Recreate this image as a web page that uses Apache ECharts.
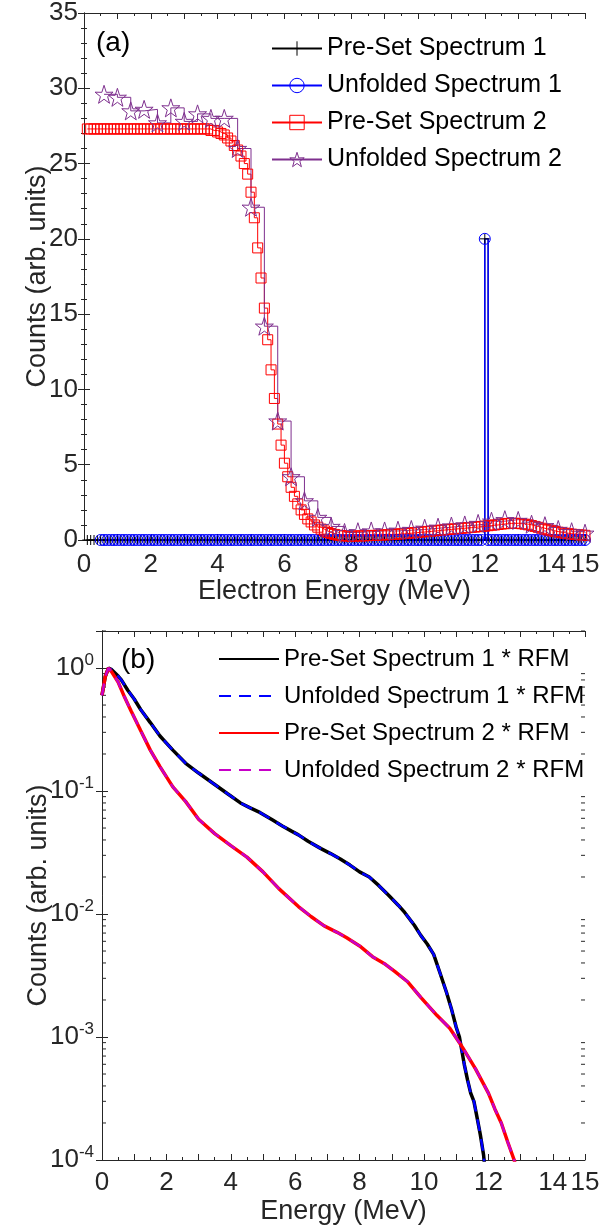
<!DOCTYPE html>
<html>
<head>
<meta charset="utf-8">
<script src="https://cdn.jsdelivr.net/npm/echarts@6/dist/echarts.min.js"></script>
<style>
  html, body { margin: 0; padding: 0; background: #fff; }
  #chart { width: 604px; height: 1226px; }
</style>
</head>
<body>
<div id="chart"></div>
<script>
// ---- panel (a): spectra, 0.1 MeV bins ----
const binsFine = Array.from({ length: 150 }, (_, i) => +((i + 1) * 0.1).toFixed(1));      // 0.1 .. 15.0
const binsUnfold1 = Array.from({ length: 146 }, (_, i) => +((i + 5) * 0.1).toFixed(1));   // 0.5 .. 15.0
const binsUnfold2 = Array.from({ length: 37 }, (_, i) => +(0.6 + i * 0.4).toFixed(1));    // 0.6 .. 15.0

const preset1 = [
  0,0,0,0,0,0,0,0,0,0,
  0,0,0,0,0,0,0,0,0,0,
  0,0,0,0,0,0,0,0,0,0,
  0,0,0,0,0,0,0,0,0,0,
  0,0,0,0,0,0,0,0,0,0,
  0,0,0,0,0,0,0,0,0,0,
  0,0,0,0,0,0,0,0,0,0,
  0,0,0,0,0,0,0,0,0,0,
  0,0,0,0,0,0,0,0,0,0,
  0,0,0,0,0,0,0,0,0,0,
  0,0,0,0,0,0,0,0,0,0,
  0,0,0,0,0,0,0,0,0,20,
  0,0,0,0,0,0,0,0,0,0,
  0,0,0,0,0,0,0,0,0,0,
  0,0,0,0,0,0,0,0,0,0
];
const unfolded1 = [
  0,0,0,0,0,0,0,0,0,0,
  0,0,0,0,0,0,0,0,0,0,
  0,0,0,0,0,0,0,0,0,0,
  0,0,0,0,0,0,0,0,0,0,
  0,0,0,0,0,0,0,0,0,0,
  0,0,0,0,0,0,0,0,0,0,
  0,0,0,0,0,0,0,0,0,0,
  0,0,0,0,0,0,0,0,0,0,
  0,0,0,0,0,0,0,0,0,0,
  0,0,0,0,0,0,0,0,0,0,
  0,0,0,0,0,0,0,0,0,0,
  0,0,0,0,0,20,0,0,0,0,
  0,0,0,0,0,0,0,0,0,0,
  0,0,0,0,0,0,0,0,0,0,
  0,0,0,0,0,0
];
const preset2 = [
  27.3,27.3,27.3,27.3,27.3,27.3,27.3,27.3,27.3,27.3,
  27.3,27.3,27.3,27.3,27.3,27.3,27.3,27.3,27.3,27.3,
  27.3,27.3,27.3,27.3,27.3,27.3,27.3,27.3,27.3,27.3,
  27.3,27.3,27.3,27.3,27.3,27.3,27.3,27.2,27.2,27.1,
  27.0,26.9,26.7,26.5,26.2,25.9,25.5,25.0,24.3,23.1,
  21.4,19.4,17.4,15.4,13.3,11.3,9.4,7.7,6.3,5.1,
  4.2,3.5,2.9,2.4,2.0,1.7,1.4,1.2,1.0,0.85,
  0.72,0.6,0.5,0.43,0.37,0.32,0.29,0.27,0.26,0.26,
  0.26,0.27,0.27,0.28,0.29,0.3,0.31,0.32,0.33,0.34,
  0.35,0.37,0.38,0.4,0.41,0.43,0.45,0.47,0.49,0.51,
  0.53,0.55,0.57,0.59,0.61,0.63,0.66,0.68,0.7,0.72,
  0.74,0.76,0.78,0.8,0.82,0.84,0.86,0.88,0.9,0.92,
  0.95,0.98,1.0,1.03,1.06,1.08,1.1,1.11,1.11,1.1,
  1.08,1.05,1.01,0.96,0.9,0.84,0.78,0.72,0.66,0.61,
  0.56,0.52,0.48,0.45,0.42,0.39,0.37,0.35,0.33,0.31
];
const unfolded2 = [
  29.6,29.4,28.5,28.6,27.7,28.7,27.8,28.3,28.0,28.0,
  26.0,22.1,14.2,7.9,4.2,2.6,1.5,0.9,0.5,0.55,
  0.6,0.6,0.65,0.7,0.78,0.85,0.93,1.0,1.1,1.25,
  1.35,1.3,1.05,0.95,0.7,0.55,0.45
];

// ---- panel (b): spectra folded with the response matrix ----
const energyB1 = [0,0.1,0.2,0.3,0.5,0.6,0.8,1.0,1.2,1.5,1.8,2.2,2.6,3.0,3.5,3.9,4.3,4.6,4.9,5.3,
  5.6,5.9,6.1,6.4,6.8,7.1,7.4,7.7,8.0,8.3,8.6,8.9,9.2,9.4,9.7,9.9,10.1,10.3,10.5,10.7,
  10.85,11.0,11.1,11.25,11.35,11.45,11.55,11.65,11.75,11.85,11.9];
const rfm1 = [0.6,0.85,1.0,0.97,0.86,0.8,0.66,0.56,0.46,0.36,0.28,0.215,0.168,0.14,0.113,0.095,0.08,0.073,0.067,0.058,
  0.052,0.047,0.044,0.039,0.034,0.031,0.028,0.025,0.022,0.02,0.017,0.0142,0.0118,0.0103,0.0081,0.0067,0.0057,0.0047,0.0033,0.0023,
  0.0017,0.0012,0.001,0.0006,0.00045,0.00035,0.0003,0.00022,0.00016,0.00011,0.00008];
const energyB2 = [0,0.1,0.2,0.3,0.5,0.7,0.9,1.2,1.5,1.8,2.2,2.6,3.0,3.5,4.0,4.5,5.0,5.5,6.1,6.5,
  6.9,7.3,7.6,8.0,8.4,8.8,9.1,9.5,9.9,10.4,10.8,11.2,11.6,12.0,12.2,12.4,12.6,12.8,12.9];
const rfm2 = [0.6,0.85,1.0,0.93,0.77,0.58,0.45,0.31,0.215,0.158,0.108,0.082,0.059,0.045,0.036,0.029,0.022,0.016,0.0115,0.0095,
  0.008,0.0071,0.0064,0.0055,0.0045,0.0039,0.0034,0.0028,0.0021,0.0015,0.00118,0.00082,0.00055,0.00035,0.00026,0.0002,0.00014,0.0001,0.00008];

const pair = (xs, ys) => xs.map((x, i) => [x, ys[i]]);

// minor ticks of the log axis (2..9 x 10^n)
const logMinor = [];
for (let p = -4; p <= 0; p++) for (let m = 2; m <= 9; m++) {
  const v = m * Math.pow(10, p);
  if (v <= 2) logMinor.push(v);
}

const axisCol = '#262626';
const font = 'Liberation Sans, Arial, Helvetica, sans-serif';
const plusSym = 'path://M0,5L10,5M5,0L5,10';
const starSym = 'path://M50,0L61.8,35.3L98.1,34.5L69.1,56.7L79.4,90.5L50,70L20.6,90.5L30.9,56.7L1.9,34.5L38.2,35.3Z';

function xAxisCfg(grid, pos, name, margin, gap) {
  return {
    type: 'value', gridIndex: grid, position: pos, min: 0, max: 15, interval: 1,
    name: name || '', nameLocation: 'middle', nameGap: gap || 40, nameMoveOverlap: false,
    nameTextStyle: { fontSize: 27, color: axisCol, fontFamily: font },
    axisLine: { show: true, onZero: false, lineStyle: { color: axisCol, width: 1 } },
    axisTick: { show: true, inside: true, length: 6, lineStyle: { color: axisCol } },
    minorTick: { show: true, splitNumber: 2, length: 3, lineStyle: { color: axisCol } },
    splitLine: { show: false },
    axisLabel: {
      show: pos === 'bottom', fontSize: 26, color: axisCol, fontFamily: font, margin: margin || 12,
      formatter: v => (v % 2 === 0 || v === 15) ? String(v) : ''
    }
  };
}

const supLabel = v => {
  const e = Math.round(Math.log10(v));
  if (Math.abs(Math.log10(v) - e) > 1e-6) return '';
  return '{b|10}{e|' + (e === 0 ? '0' : '-' + Math.abs(e)) + '}';
};

const legendItem = (name, color) => ({ name, itemStyle: { color: 'transparent', borderColor: color, borderWidth: 1 } });
const legendLine = name => ({ name, itemStyle: { color: 'transparent', borderColor: 'transparent', borderWidth: 0, opacity: 0 } });

const option = {
  animation: false,
  backgroundColor: '#fff',
  textStyle: { fontFamily: font },
  grid: [
    { left: 84, top: 12, width: 501, height: 528 },
    { left: 102, top: 631, width: 483, height: 529 }
  ],
  graphic: [
    { type: 'text', left: 96, top: 29, style: { text: '(a)', fontSize: 28, fill: '#000', fontFamily: font } },
    { type: 'text', left: 121, top: 646, style: { text: '(b)', fontSize: 28, fill: '#000', fontFamily: font } }
  ],
  legend: [
    {
      data: [
        legendItem('Pre-Set Spectrum 1', '#000'),
        legendItem('Unfolded Spectrum 1', '#0000ff'),
        legendItem('Pre-Set Spectrum 2', '#ff0000'),
        legendItem('Unfolded Spectrum 2', '#7e2f8e')
      ],
      orient: 'vertical', left: 266, top: 31, itemWidth: 50, itemHeight: 18, itemGap: 12,
      textStyle: { fontSize: 25, color: '#000', fontFamily: font }
    },
    {
      data: [
        legendLine('Pre-Set Spectrum 1 * RFM'),
        legendLine('Unfolded Spectrum 1 * RFM'),
        legendLine('Pre-Set Spectrum 2 * RFM'),
        legendLine('Unfolded Spectrum 2 * RFM')
      ],
      orient: 'vertical', left: 213, top: 642, itemWidth: 60, itemHeight: 16, itemGap: 13,
      textStyle: { fontSize: 24, color: '#000', fontFamily: font }
    }
  ],
  xAxis: [
    xAxisCfg(0, 'bottom', 'Electron Energy (MeV)', 12, 38),
    xAxisCfg(0, 'top'),
    xAxisCfg(1, 'bottom', 'Energy (MeV)', 10, 38),
    xAxisCfg(1, 'top')
  ],
  yAxis: [
    {
      type: 'value', gridIndex: 0, position: 'left', min: 0, max: 35, interval: 5,
      name: 'Counts (arb. units)', nameLocation: 'middle', nameGap: 33, nameMoveOverlap: false,
      nameTextStyle: { fontSize: 27, color: axisCol, fontFamily: font },
      axisLine: { show: true, lineStyle: { color: axisCol } },
      axisTick: { show: true, inside: true, length: 6, lineStyle: { color: axisCol } },
      minorTick: { show: true, splitNumber: 5, length: 3, lineStyle: { color: axisCol } },
      splitLine: { show: false },
      axisLabel: { fontSize: 26, color: axisCol, fontFamily: font, margin: 6 }
    },
    {
      type: 'value', gridIndex: 0, position: 'right', min: 0, max: 35, interval: 5,
      axisLine: { show: true, lineStyle: { color: axisCol } },
      axisTick: { show: true, inside: true, length: 6, lineStyle: { color: axisCol } },
      minorTick: { show: true, splitNumber: 5, length: 3, lineStyle: { color: axisCol } },
      splitLine: { show: false }, axisLabel: { show: false }
    },
    {
      type: 'log', logBase: 10, gridIndex: 1, position: 'left', min: 1e-4, max: 2,
      name: 'Counts (arb. units)', nameLocation: 'middle', nameGap: 50, nameMoveOverlap: false,
      nameTextStyle: { fontSize: 27, color: axisCol, fontFamily: font },
      axisLine: { show: true, lineStyle: { color: axisCol } },
      axisTick: { show: true, inside: true, length: 6, lineStyle: { color: axisCol } },
      splitLine: { show: false },
      axisLabel: {
        color: axisCol, fontFamily: font, margin: 8, formatter: supLabel,
        rich: {
          b: { fontSize: 26, color: axisCol, fontFamily: font },
          e: { fontSize: 17, color: axisCol, fontFamily: font, padding: [0, 0, 16, 0] }
        }
      }
    },
    {
      type: 'log', logBase: 10, gridIndex: 1, position: 'right', min: 1e-4, max: 2,
      axisLine: { show: true, lineStyle: { color: axisCol } },
      axisTick: { show: true, inside: true, length: 6, lineStyle: { color: axisCol } },
      splitLine: { show: false }, axisLabel: { show: false }
    }
  ],
  series: [
    {
      name: 'Pre-Set Spectrum 1', type: 'line', xAxisIndex: 0, yAxisIndex: 0, step: 'end',
      data: pair(binsFine, preset1), symbol: plusSym, symbolSize: 10,
      lineStyle: { color: '#000', width: 1 },
      itemStyle: { color: 'transparent', borderColor: '#000', borderWidth: 1 }
    },
    {
      name: 'Unfolded Spectrum 1', type: 'line', xAxisIndex: 0, yAxisIndex: 0, step: 'end',
      data: pair(binsUnfold1, unfolded1), symbol: 'circle', symbolSize: 11,
      lineStyle: { color: '#0000ff', width: 1.5 },
      itemStyle: { color: 'transparent', borderColor: '#0000ff', borderWidth: 1 }
    },
    {
      name: 'Pre-Set Spectrum 2', type: 'line', xAxisIndex: 0, yAxisIndex: 0, step: 'end',
      data: pair(binsFine, preset2), symbol: 'rect', symbolSize: 10,
      lineStyle: { color: '#ff0000', width: 1 },
      itemStyle: { color: 'transparent', borderColor: '#ff0000', borderWidth: 1 }
    },
    {
      name: 'Unfolded Spectrum 2', type: 'line', xAxisIndex: 0, yAxisIndex: 0, step: 'end',
      data: pair(binsUnfold2, unfolded2), symbol: starSym, symbolSize: 18,
      lineStyle: { color: '#7e2f8e', width: 1 },
      itemStyle: { color: 'transparent', borderColor: '#7e2f8e', borderWidth: 1 }
    },
    {
      name: 'Pre-Set Spectrum 1 * RFM', type: 'line', xAxisIndex: 2, yAxisIndex: 2,
      data: pair(energyB1, rfm1), symbol: 'circle', showSymbol: false,
      lineStyle: { color: '#000', width: 3.5 }, itemStyle: { color: '#000' }
    },
    {
      name: 'Unfolded Spectrum 1 * RFM', type: 'line', xAxisIndex: 2, yAxisIndex: 2,
      data: pair(energyB1, rfm1), symbol: 'circle', showSymbol: false,
      lineStyle: { color: '#0000ff', width: 2.5, type: [12, 8] }, itemStyle: { color: '#0000ff' }
    },
    {
      name: 'Pre-Set Spectrum 2 * RFM', type: 'line', xAxisIndex: 2, yAxisIndex: 2,
      data: pair(energyB2, rfm2), symbol: 'circle', showSymbol: false,
      lineStyle: { color: '#ff0000', width: 3.5 }, itemStyle: { color: '#ff0000' }
    },
    {
      name: 'Unfolded Spectrum 2 * RFM', type: 'line', xAxisIndex: 2, yAxisIndex: 2,
      data: pair(energyB2, rfm2), symbol: 'circle', showSymbol: false,
      lineStyle: { color: '#c800c8', width: 2.5, type: [12, 8] }, itemStyle: { color: '#c800c8' }
    },
    {
      type: 'custom', xAxisIndex: 2, yAxisIndex: 2, silent: true, clip: false,
      data: logMinor.map(v => [0, v]),
      renderItem: (params, api) => {
        const v = api.value(1);
        const l = api.coord([0, v]);
        const r = api.coord([15, v]);
        const st = { stroke: axisCol, lineWidth: 1 };
        return {
          type: 'group', children: [
            { type: 'line', shape: { x1: l[0], y1: l[1], x2: l[0] + 4, y2: l[1] }, style: st },
            { type: 'line', shape: { x1: r[0], y1: r[1], x2: r[0] - 4, y2: r[1] }, style: st }
          ]
        };
      }
    }
  ]
};

const chart = echarts.init(document.getElementById('chart'));
chart.setOption(option);
</script>
</body>
</html>
